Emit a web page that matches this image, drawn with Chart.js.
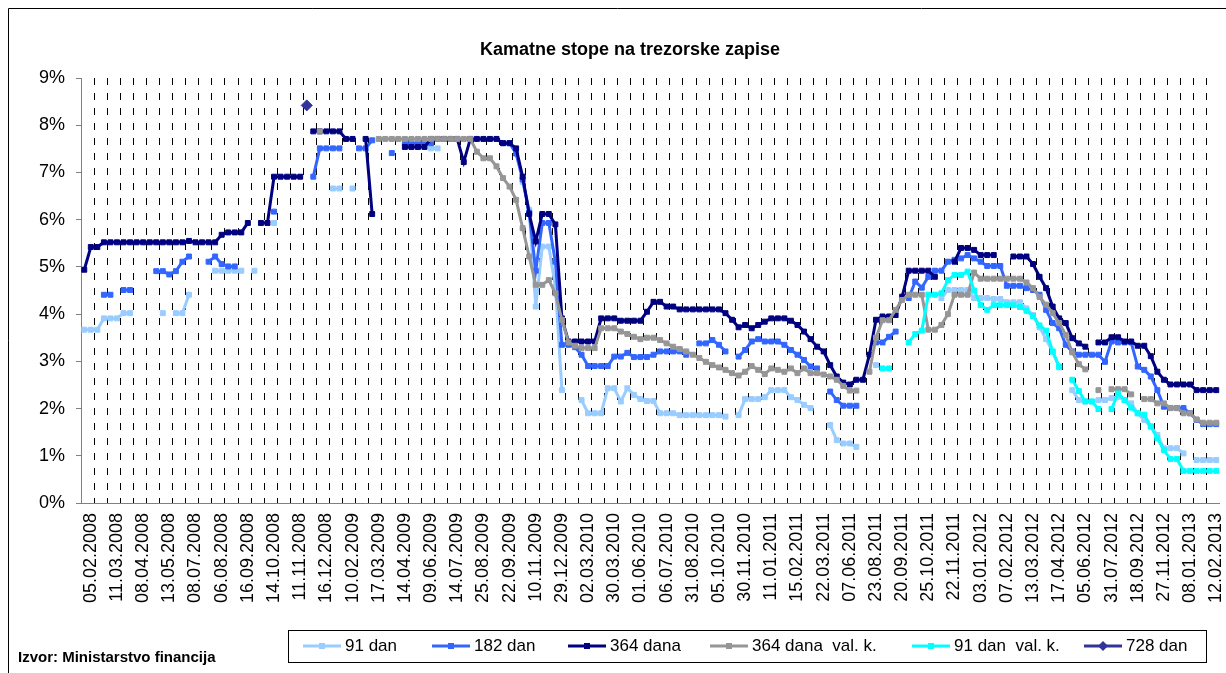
<!DOCTYPE html>
<html>
<head>
<meta charset="utf-8">
<script src="https://cdn.jsdelivr.net/npm/chart.js@4"></script>
<style>
  html, body { margin: 0; padding: 0; background: #fff; }
  canvas { display: block; }
</style>
</head>
<body>
<canvas id="myChart" width="1226" height="673"></canvas>
<script>
const n = null;

// auction dates shown on the axis (every 4th auction, starting with the 2nd)
const tickLabels = [
  "05.02.2008", "11.03.2008", "08.04.2008", "13.05.2008", "08.07.2008", "06.08.2008",
  "16.09.2008", "14.10.2008", "11.11.2008", "16.12.2008", "10.02.2009", "17.03.2009",
  "14.04.2009", "09.06.2009", "14.07.2009", "25.08.2009", "22.09.2009", "10.11.2009",
  "29.12.2009", "02.03.2010", "30.03.2010", "01.06.2010", "06.07.2010", "31.08.2010",
  "05.10.2010", "30.11.2010", "11.01.2011", "15.02.2011", "22.03.2011", "07.06.2011",
  "23.08.2011", "20.09.2011", "25.10.2011", "22.11.2011", "03.01.2012", "07.02.2012",
  "13.03.2012", "17.04.2012", "05.06.2012", "31.07.2012", "18.09.2012", "27.11.2012",
  "08.01.2013", "12.02.2013"
];

const dan91 = [
  3.67,3.67,3.67,3.91,3.91,3.91,4.02,4.02,n,n,
  n,n,4.02,n,4.02,4.02,4.41,n,n,n,
  4.92,4.92,4.92,4.92,4.92,n,4.92,n,n,5.93,
  n,n,n,n,n,n,n,n,6.66,6.66,
  n,6.66,n,n,n,n,n,n,n,n,
  n,n,n,7.51,7.51,n,n,n,n,n,
  n,n,n,n,n,n,n,6.80,6.21,4.16,
  5.43,5.43,4.58,2.39,n,n,2.18,1.90,1.90,1.90,
  2.43,2.43,2.15,2.43,2.29,2.20,2.16,2.16,1.90,1.90,
  1.90,1.86,1.86,1.86,1.86,1.86,1.86,1.86,1.83,n,
  1.86,2.20,2.20,2.20,2.24,2.39,2.39,2.39,2.24,2.18,
  2.08,2.01,n,n,1.65,1.33,1.26,1.26,1.19,n,
  n,2.92,n,n,n,n,n,n,n,n,
  n,4.34,4.51,4.51,4.51,4.51,4.34,4.34,4.34,4.32,
  4.32,4.25,4.25,4.25,4.12,3.98,3.72,3.47,3.20,2.87,
  n,2.39,2.18,2.15,2.15,2.18,2.18,2.22,2.25,2.18,
  2.11,1.90,1.76,1.62,1.44,1.16,1.16,1.16,1.05,n,
  0.91,0.91,0.91,0.91
];

const dan182 = [
  n,n,n,4.41,4.41,n,4.51,4.51,n,n,
  n,4.91,4.91,4.84,4.91,5.11,5.22,n,n,5.11,
  5.22,5.06,5.01,5.01,n,n,n,n,n,6.17,
  n,n,n,n,n,6.91,7.51,7.51,7.51,7.51,
  n,n,7.51,7.51,7.68,n,n,7.41,n,7.62,
  7.62,7.62,7.62,7.62,n,n,n,n,n,n,
  n,n,n,n,7.62,7.62,7.40,6.85,6.15,4.92,
  5.93,5.93,5.11,3.35,3.35,3.30,3.14,2.90,2.90,2.90,
  2.90,3.10,3.10,3.18,3.09,3.09,3.09,3.14,3.21,3.21,
  3.21,3.21,3.14,n,3.38,3.38,3.45,3.35,3.21,n,
  3.10,3.24,3.42,3.47,3.42,3.42,3.42,3.35,3.24,3.14,
  3.03,2.89,2.85,n,2.36,2.18,2.06,2.06,2.06,n,
  n,3.40,3.40,3.52,3.63,n,4.34,4.69,4.56,4.79,
  4.92,4.92,5.11,5.15,5.18,5.25,5.18,5.11,5.02,5.02,
  5.02,4.60,4.60,4.60,4.55,4.51,4.41,4.09,3.81,3.70,
  3.35,3.21,3.14,3.14,3.14,3.14,2.99,3.42,3.40,3.40,
  3.40,2.89,2.82,2.68,2.39,2.04,2.01,2.01,2.01,1.90,
  1.76,1.67,1.67,1.67
];

const dana364 = [
  4.94,5.42,5.42,5.52,5.52,5.52,5.52,5.52,5.52,5.52,
  5.52,5.52,5.52,5.52,5.52,5.52,5.55,5.52,5.52,5.52,
  5.52,5.68,5.73,5.73,5.73,5.93,n,5.93,5.93,6.91,
  6.91,6.91,6.91,6.91,n,7.87,7.87,7.87,7.87,7.87,
  7.71,7.71,n,7.71,6.12,n,n,n,n,7.54,
  7.54,7.54,7.54,7.71,7.71,7.71,7.71,7.71,7.22,7.71,
  7.71,7.71,7.71,7.71,7.62,7.62,7.51,6.91,6.12,5.54,
  6.12,6.12,5.90,3.91,3.42,3.42,3.42,3.42,3.42,3.91,
  3.91,3.91,3.86,3.86,3.86,3.86,4.05,4.26,4.26,4.16,
  4.16,4.10,4.10,4.10,4.10,4.10,4.10,4.10,4.02,3.88,
  3.72,3.77,3.70,3.77,3.84,3.91,3.91,3.91,3.86,3.77,
  3.63,3.47,3.31,3.21,2.92,2.68,2.55,2.51,2.61,2.61,
  3.14,3.88,3.95,3.95,3.98,4.37,4.92,4.92,4.92,4.92,
  4.79,n,n,5.11,5.40,5.40,5.36,5.25,5.25,5.25,
  n,n,5.22,5.22,5.22,5.06,4.79,4.55,4.16,3.91,
  3.81,3.49,3.38,3.31,n,3.40,3.40,3.51,3.51,3.42,
  3.42,3.33,3.33,3.11,2.78,2.61,2.51,2.51,2.51,2.51,
  2.39,2.39,2.39,2.39
];

const dana364vk = [
  n,n,n,n,n,n,n,n,n,n,
  n,n,n,n,n,n,n,n,n,n,
  n,n,n,n,n,n,n,n,n,n,
  n,n,n,n,n,n,7.87,n,n,n,
  n,n,n,n,n,7.71,7.71,7.71,7.71,7.71,
  7.71,7.71,7.71,7.71,7.71,7.71,7.71,7.71,7.71,7.71,
  7.44,7.30,7.30,7.13,6.88,6.70,6.42,5.82,5.22,4.62,
  4.62,4.72,4.44,3.88,3.40,3.33,3.28,3.28,3.28,3.70,
  3.70,3.70,3.63,3.58,3.52,3.47,3.50,3.50,3.45,3.38,
  3.31,3.26,3.21,3.14,3.07,2.99,2.92,2.87,2.82,2.75,
  2.70,2.78,2.90,2.82,2.73,2.85,2.82,2.78,2.85,2.75,
  2.85,2.75,2.75,2.72,2.68,2.61,2.48,2.38,2.38,n,
  2.78,3.50,3.87,3.87,4.09,4.30,4.41,4.41,4.41,3.67,
  3.67,3.77,4.00,4.41,4.41,4.41,4.88,4.75,4.75,4.75,
  4.75,4.75,4.75,4.75,4.67,4.55,4.36,4.20,4.02,3.81,
  3.56,3.19,2.94,2.83,n,2.39,n,2.41,2.41,2.41,
  2.30,n,2.20,2.20,2.11,2.11,2.01,2.01,1.90,1.90,
  1.77,1.70,1.70,1.70
];

const dan91vk = [
  n,n,n,n,n,n,n,n,n,n,
  n,n,n,n,n,n,n,n,n,n,
  n,n,n,n,n,n,n,n,n,n,
  n,n,n,n,n,n,n,n,n,n,
  n,n,n,n,n,n,n,n,n,n,
  n,n,n,n,n,n,n,n,n,n,
  n,n,n,n,n,n,n,n,n,n,
  n,n,n,n,n,n,n,n,n,n,
  n,n,n,n,n,n,n,n,n,n,
  n,n,n,n,n,n,n,n,n,n,
  n,n,n,n,n,n,n,n,n,n,
  n,n,n,n,n,n,n,n,n,n,
  n,n,2.85,2.85,n,n,3.40,3.58,3.65,4.41,
  4.41,4.44,4.72,4.83,4.83,4.90,4.50,4.19,4.09,4.19,
  4.19,4.19,4.19,4.15,4.07,3.96,3.76,3.65,3.21,2.89,
  n,2.61,2.37,2.15,2.15,1.99,n,1.99,2.32,2.18,
  2.02,1.90,1.87,1.62,1.37,1.12,0.93,0.93,0.68,0.68,
  0.68,0.68,0.68,0.68
];

// one 728-day issue only
const dan728 = [];
dan728[34] = 8.42;

const seriesNames = ["91 dan", "182 dan", "364 dana", "364 dana  val. k.", "91 dan  val. k.", "728 dan"];
const seriesColors = ["#99CCFF", "#3366FF", "#000080", "#969696", "#00FFFF", "#333399"];
const seriesData = [dan91, dan182, dana364, dana364vk, dan91vk, dan728];

const chartTitle = "Kamatne stope na trezorske zapise";
const sourceNote = "Izvor: Ministarstvo financija";
const fontFamily = "'Liberation Sans', Arial, sans-serif";

document.addEventListener("DOMContentLoaded", function () {

    const numCats = dan91.length;
    const categories = [];
    for (let i = 0; i < numCats; i++) categories.push("");
    tickLabels.forEach(function (t, k) { categories[1 + 4 * k] = t; });

    for (let i = 0; i < numCats; i++) {
        if (dan728[i] === undefined) dan728[i] = null;
    }

    const datasets = seriesData.map(function (d, i) {
        const last = i === 5;
        return {
            label: seriesNames[i],
            data: d,
            borderColor: seriesColors[i],
            backgroundColor: seriesColors[i],
            pointBackgroundColor: seriesColors[i],
            pointBorderColor: seriesColors[i],
            pointBorderWidth: 1,
            pointStyle: last ? 'rectRot' : 'rect',
            pointRadius: last ? 5.5 : 3.5,
            borderWidth: 3,
            tension: 0,
            spanGaps: false,
            order: 6 - i
        };
    });

    // legend item left edges inside the legend box
    const legendX = [303, 432, 568, 710, 912, 1084];

    const decor = {
        id: 'decor',
        afterDraw: function (chart) {
            const ctx = chart.ctx;
            ctx.save();
            ctx.strokeStyle = '#000';
            ctx.lineWidth = 1;
            ctx.beginPath();
            ctx.moveTo(8.5, 673);
            ctx.lineTo(8.5, 8.5);
            ctx.lineTo(1226, 8.5);
            ctx.stroke();

            ctx.fillStyle = '#000';
            ctx.font = 'bold 18px ' + fontFamily;
            ctx.textAlign = 'center';
            ctx.textBaseline = 'middle';
            ctx.fillText(chartTitle, 630, 50);

            ctx.strokeRect(288.5, 630.5, 918, 32);
            ctx.font = '17px ' + fontFamily;
            ctx.textAlign = 'left';
            const ly = 646;
            seriesNames.forEach(function (name, i) {
                const x0 = legendX[i];
                ctx.strokeStyle = seriesColors[i];
                ctx.lineWidth = 3;
                ctx.beginPath();
                ctx.moveTo(x0, ly);
                ctx.lineTo(x0 + 38, ly);
                ctx.stroke();
                ctx.fillStyle = seriesColors[i];
                const cx = x0 + 19;
                if (i === 5) {
                    ctx.beginPath();
                    ctx.moveTo(cx, ly - 5);
                    ctx.lineTo(cx + 5, ly);
                    ctx.lineTo(cx, ly + 5);
                    ctx.lineTo(cx - 5, ly);
                    ctx.closePath();
                    ctx.fill();
                } else {
                    ctx.fillRect(cx - 3, ly - 3, 6, 6);
                }
                ctx.fillStyle = '#000';
                ctx.fillText(name, x0 + 42, ly);
            });

            ctx.font = 'bold 15px ' + fontFamily;
            ctx.fillText(sourceNote, 18, 658);
            ctx.restore();
        }
    };

    const config = {
        type: 'line',
        data: {
            labels: categories,
            datasets: datasets
        },
        options: {
            responsive: false,
            animation: false,
            devicePixelRatio: 1,
            layout: {
                padding: { top: 78, right: 4, left: 0, bottom: 0 }
            },
            plugins: {
                legend: { display: false },
                tooltip: { enabled: false },
                title: { display: false }
            },
            scales: {
                x: {
                    type: 'category',
                    offset: true,
                    grid: {
                        offset: true,
                        drawTicks: false,
                        lineWidth: 1,
                        color: function (ctx) {
                            return (ctx.index > 0 && ctx.index % 2 === 0) ? '#000' : 'rgba(0,0,0,0)';
                        }
                    },
                    border: { color: '#808080', width: 1, dash: [7, 8] },
                    ticks: {
                        autoSkip: false,
                        maxRotation: 90,
                        minRotation: 90,
                        padding: 10,
                        color: '#000',
                        font: { family: fontFamily, size: 18 }
                    },
                    afterFit: function (s) {
                        s.height = 170;
                        s.paddingLeft = 0;
                        s.paddingRight = 0;
                    }
                },
                y: {
                    min: 0,
                    max: 9,
                    ticks: {
                        stepSize: 1,
                        padding: 11,
                        color: '#000',
                        font: { family: fontFamily, size: 18 },
                        callback: function (v) { return v + '%'; }
                    },
                    grid: {
                        drawOnChartArea: false,
                        drawTicks: true,
                        tickLength: 5,
                        color: '#808080'
                    },
                    border: { color: '#808080', width: 1 },
                    afterFit: function (s) {
                        s.width = 81;
                    }
                }
            }
        },
        plugins: [decor]
    };

    var myChart = new Chart(
        document.getElementById('myChart'),
        config
    );
});
</script>
</body>
</html>
